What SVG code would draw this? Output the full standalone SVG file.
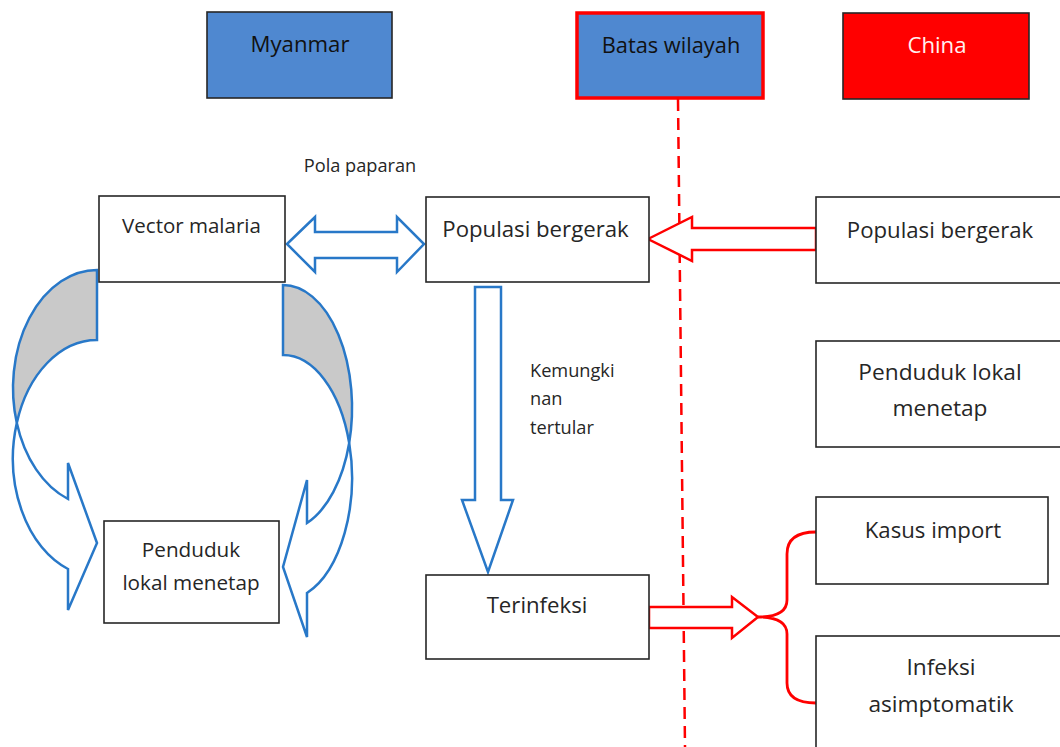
<svg xmlns="http://www.w3.org/2000/svg" width="1060" height="747" viewBox="0 0 1060 747">
  <style>
    .box { fill: #ffffff; stroke: #262626; stroke-width: 1.6; }
    .hdr { stroke: #262626; stroke-width: 1.6; }
    .t { font-family: "Open Sans", "Noto Sans", "Liberation Sans", sans-serif; fill: #262626; text-anchor: middle; font-size: 22.2px; }
    .lbl { font-family: "Open Sans", "Noto Sans", "Liberation Sans", sans-serif; fill: #262626; font-size: 18.2px; }
    .blue { fill: #ffffff; stroke: #2878C8; stroke-width: 2.5; stroke-linejoin: miter; }
    .shade { fill: #C9C9C9; stroke: #2878C8; stroke-width: 2.5; }
    .red { fill: #ffffff; stroke: #FF0000; stroke-width: 2.5; stroke-linejoin: miter; }
    .brace { fill: none; stroke: #FF0000; stroke-width: 2.8; }
    .border { stroke: #FF0000; stroke-width: 2.5; stroke-dasharray: 12 7; fill: none; }
  </style>

  <rect width="1060" height="747" fill="#ffffff"/>

  <!-- region headers -->
  <g id="myanmar">
    <rect class="hdr" x="207" y="12" width="185" height="86" fill="#4F88D0"/>
    <text class="t" x="300" y="52" style="fill:#111111">Myanmar</text>
  </g>
  <g id="china">
    <rect class="hdr" x="843" y="13" width="186" height="86" fill="#FF0000"/>
    <text class="t" x="937" y="53" style="fill:#FFF0F0">China</text>
  </g>

  <!-- border line between the two countries -->
  <line class="border" x1="678" y1="99" x2="685" y2="747"/>

  <g id="batas-wilayah">
    <rect x="577" y="13" width="186" height="85" fill="#4F88D0" stroke="#FF0000" stroke-width="3.5"/>
    <text class="t" x="671" y="53" style="fill:#111111;font-size:21.8px">Batas wilayah</text>
  </g>

  <!-- connectors -->
  <g id="connectors">
    <!-- two-way exposure arrow -->
    <polygon class="blue" points="287,244 315,217 315,232 397,232 397,217 424,244 397,272 397,258 315,258 315,272"/>
    <!-- possible infection arrow -->
    <polygon class="blue" points="475,287 501,287 501,500 513,500 488,572 462,500 475,500"/>
    <!-- cross-border movement arrow -->
    <polygon class="red" points="648,239 692,217 692,228 816,228 816,250 692,250 692,261"/>
    <!-- infected outflow arrow -->
    <polygon class="red" points="649,607 732,607 732,597 758,617 732,638 732,628 649,628"/>
    <!-- split brace -->
    <path class="brace" d="M816,532 C798,532 787,538 787,554 L787,600 C787,612 776,617 758,617 C776,617 787,622 787,634 L787,683 C787,697 798,703 816,703"/>

    <!-- curved arrow, left side -->
    <path class="shade" d="M97,270 A84,118 0 0 0 16.8,423 A84,118 0 0 1 97,340 Z"/>
    <path class="blue" d="M16.8,423 A84,118 0 0 0 68,499 L68,463 L97,543 L68,610 L68,569 A84,118 0 0 1 16.8,423 Z"/>

    <!-- curved arrow, right side -->
    <path class="shade" d="M283,285 A69,123 0 0 1 349.2,443 A69,123 0 0 0 283,355 Z"/>
    <path class="blue" d="M349.2,443 A69,123 0 0 1 307,523 L307,480 L283,567 L307,637 L307,593 A69,123 0 0 0 349.2,443 Z"/>

    <text class="lbl" x="360" y="172" text-anchor="middle">Pola paparan</text>
    <text class="lbl" x="530" y="377">Kemungki</text>
    <text class="lbl" x="530" y="405">nan</text>
    <text class="lbl" x="530" y="434">tertular</text>
  </g>

  <!-- nodes -->
  <g id="vector-malaria">
    <rect class="box" x="99" y="196" width="186" height="86"/>
    <text class="t" x="191.5" y="233" style="font-size:20.5px">Vector malaria</text>
  </g>
  <g id="populasi-bergerak-mm">
    <rect class="box" x="426" y="197" width="223" height="85"/>
    <text class="t" x="535.5" y="237">Populasi bergerak</text>
  </g>
  <g id="populasi-bergerak-cn">
    <rect class="box" x="816" y="197" width="250" height="86"/>
    <text class="t" x="940" y="238">Populasi bergerak</text>
  </g>
  <g id="penduduk-lokal-cn">
    <rect class="box" x="816" y="341" width="250" height="106"/>
    <text class="t" x="940" y="380" style="font-size:22.7px">Penduduk lokal</text>
    <text class="t" x="940" y="416" style="font-size:22.7px">menetap</text>
  </g>
  <g id="penduduk-lokal-mm">
    <rect class="box" x="104" y="521" width="175" height="102"/>
    <text class="t" x="191" y="557" style="font-size:20.7px">Penduduk</text>
    <text class="t" x="191" y="590" style="font-size:20.7px">lokal menetap</text>
  </g>
  <g id="terinfeksi">
    <rect class="box" x="426" y="575" width="223" height="84"/>
    <text class="t" x="537" y="613">Terinfeksi</text>
  </g>
  <g id="kasus-import">
    <rect class="box" x="816" y="497" width="232" height="87"/>
    <text class="t" x="933" y="538">Kasus import</text>
  </g>
  <g id="infeksi-asimptomatik">
    <rect class="box" x="816" y="636" width="250" height="130"/>
    <text class="t" x="941" y="675" style="font-size:22.7px">Infeksi</text>
    <text class="t" x="941" y="712" style="font-size:22.7px">asimptomatik</text>
  </g>
</svg>
